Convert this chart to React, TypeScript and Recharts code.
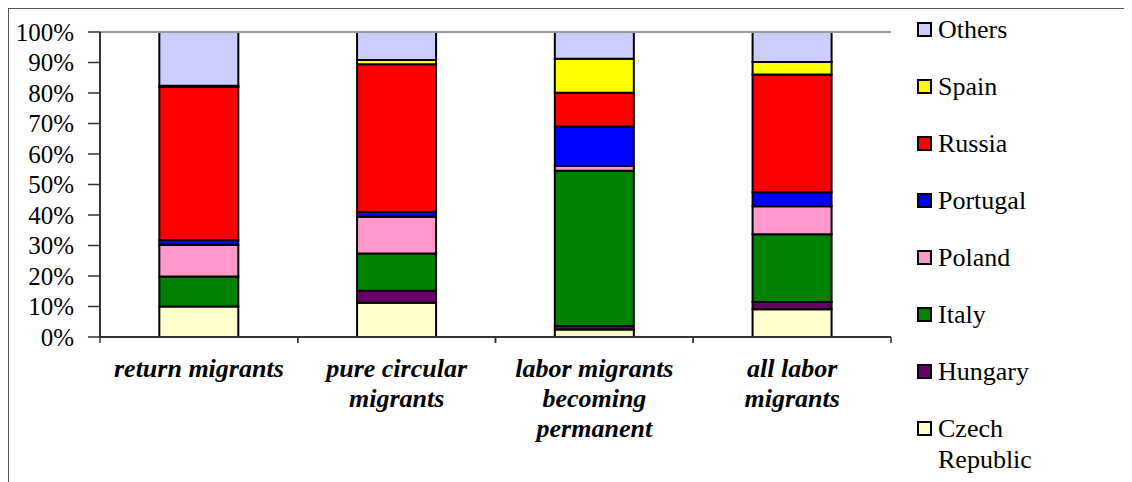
import { BarChart, Bar, XAxis, YAxis, ReferenceLine, Legend } from 'recharts';

const serif = 'Liberation Serif, Times New Roman, Times, DejaVu Serif, serif';

// groups of migrants (line breaks as in the original labels)
const categories = [
  'return migrants',
  'pure circular\nmigrants',
  'labor migrants\nbecoming\npermanent',
  'all labor\nmigrants',
];

// share of destination country, % (bottom to top of stack)
const czech = [10, 11.2, 2.5, 9.1];
const hungary = [0, 4, 1.1, 2.4];
const italy = [9.8, 12.2, 50.9, 22.2];
const poland = [10.4, 12, 1.6, 9.2];
const portugal = [1.6, 1.6, 12.9, 4.6];
const russia = [50.2, 48.4, 11.1, 38.6];
const spain = [0.4, 1.4, 11.1, 4.1];
const others = [17.6, 9.2, 8.8, 9.8];

const yTicks = [0, 10, 20, 30, 40, 50, 60, 70, 80, 90, 100];

const series = [
  { key: 'czech', name: 'Czech Republic', color: '#FFFFCC', values: czech },
  { key: 'hungary', name: 'Hungary', color: '#660066', values: hungary },
  { key: 'italy', name: 'Italy', color: '#008000', values: italy },
  { key: 'poland', name: 'Poland', color: '#FF99CC', values: poland },
  { key: 'portugal', name: 'Portugal', color: '#0000FF', values: portugal },
  { key: 'russia', name: 'Russia', color: '#FF0000', values: russia },
  { key: 'spain', name: 'Spain', color: '#FFFF00', values: spain },
  { key: 'others', name: 'Others', color: '#CCCCFF', values: others },
];

const data = categories.map((category, i) => {
  const row: Record<string, string | number> = { category };
  series.forEach((s) => {
    row[s.key] = s.values[i];
  });
  return row;
});

function CategoryTick(props: any) {
  const { x, y, payload } = props;
  const half = payload && typeof payload.offset === 'number' ? payload.offset : 98.9;
  const lines = String(payload.value).split('\n');
  return (
    <g>
      <line x1={x - half} x2={x - half} y1={y} y2={y + 6} stroke="#333" strokeWidth={1.5} />
      <line x1={x + half} x2={x + half} y1={y} y2={y + 6} stroke="#333" strokeWidth={1.5} />
      <text
        x={x}
        y={y + 40}
        textAnchor="middle"
        style={{ fontFamily: serif, fontSize: 26, fontWeight: 'bold', fontStyle: 'italic' }}
        fill="#000"
      >
        {lines.map((line, i) => (
          <tspan key={i} x={x} dy={i === 0 ? 0 : 30}>
            {line}
          </tspan>
        ))}
      </text>
    </g>
  );
}

function renderLegend() {
  // Excel lists the top of the stack first
  const items = [...series].reverse();
  return (
    <div style={{ fontFamily: serif, fontSize: 26, color: '#000' }}>
      {items.map((s) => (
        <div key={s.key} style={{ display: 'flex', alignItems: 'flex-start', height: 57 }}>
          <div
            style={{
              width: 11,
              height: 11,
              marginTop: 8,
              marginRight: 6,
              background: s.color,
              border: '2px solid #000',
              flexShrink: 0,
            }}
          />
          <div style={{ width: 130, lineHeight: '31px' }}>{s.name}</div>
        </div>
      ))}
    </div>
  );
}

export default function App() {
  return (
    <div
      style={{
        width: 1123,
        height: 473,
        marginTop: -1,
        marginLeft: -1,
        borderTop: '2px solid #555',
        borderLeft: '2px solid #555',
        background: '#fff',
        fontFamily: serif,
      }}
    >
      <BarChart
        width={1123}
        height={473}
        data={data}
        margin={{ top: 23, right: 241, left: 0, bottom: 0 }}
        barCategoryGap="30%"
        style={{ fontFamily: serif }}
      >
        <XAxis
          dataKey="category"
          height={145}
          interval={0}
          tickSize={0}
          tickMargin={0}
          tickLine={false}
          axisLine={{ stroke: '#333', strokeWidth: 2 }}
          tick={<CategoryTick />}
        />
        <YAxis
          domain={[0, 100]}
          ticks={yTicks}
          interval={0}
          allowDataOverflow
          tickFormatter={(v) => `${v}%`}
          width={91}
          tickSize={12}
          tickMargin={14}
          axisLine={{ stroke: '#333', strokeWidth: 2 }}
          tickLine={{ stroke: '#333', strokeWidth: 1.5 }}
          tick={{ fill: '#000', fontSize: 25, style: { fontFamily: serif } }}
        />
        <YAxis
          yAxisId="frame"
          orientation="right"
          domain={[0, 100]}
          width={0}
          tick={false}
          tickLine={false}
          axisLine={{ stroke: '#999', strokeWidth: 2 }}
        />
        <ReferenceLine y={100} stroke="#999" strokeWidth={2} />
        <Legend
          layout="vertical"
          align="center"
          verticalAlign="middle"
          content={renderLegend}
          wrapperStyle={{ left: 908, top: 5, width: 200 }}
        />
        {series.map((s) => (
          <Bar
            key={s.key}
            dataKey={s.key}
            name={s.name}
            stackId="share"
            fill={s.color}
            stroke="#000"
            strokeWidth={2}
            isAnimationActive={false}
          />
        ))}
      </BarChart>
    </div>
  );
}
